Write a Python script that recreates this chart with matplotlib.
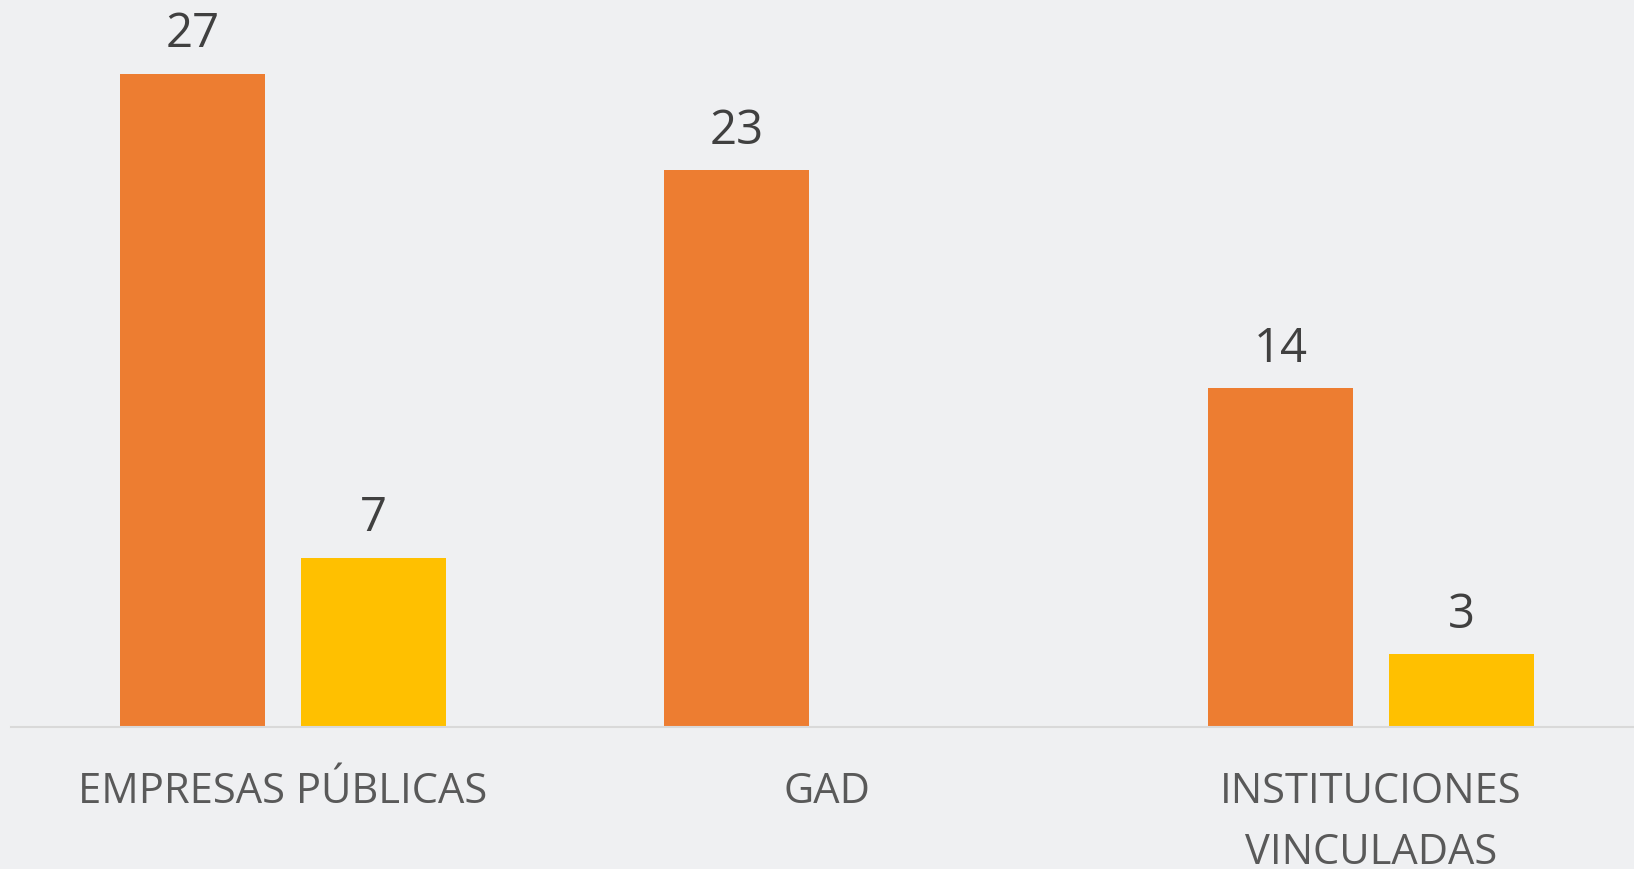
import numpy as np
import matplotlib
matplotlib.use("Agg")
import matplotlib.pyplot as plt

categorias = ["EMPRESAS PÚBLICAS", "GAD", "INSTITUCIONES\nVINCULADAS"]
serie_1 = [27, 23, 14]
serie_2 = [7, np.nan, 3]

plt.rcParams['font.family'] = ['Open Sans', 'DejaVu Sans']

fig = plt.figure(figsize=(16.34, 8.69), dpi=100)
fig.patch.set_facecolor('#eff0f2')
ax = fig.add_axes([0.0067, 0.1634, 0.9988, 0.8355])
ax.set_facecolor('none')

x = np.arange(len(categorias))
ancho = 0.267
desp = 0.166

b1 = ax.bar(x - desp, serie_1, ancho, color='#ed7d31')
b2 = ax.bar(x + desp, serie_2, ancho, color='#ffc000')

ax.bar_label(b1, labels=[str(v) for v in serie_1], padding=11,
             fontsize=34, color='#404040')
ax.bar_label(b2, labels=['' if np.isnan(v) else str(int(v)) for v in serie_2],
             padding=11, fontsize=34, color='#404040')

ax.set_xlim(-0.5, 2.5)
ax.set_ylim(0, 30)
ax.set_yticks([])
ax.set_xticks([])
for s in ['top', 'right', 'left']:
    ax.spines[s].set_visible(False)
ax.spines['bottom'].set_color('#d9d9d9')
ax.spines['bottom'].set_linewidth(1.5)

for xi, cat in zip(x, categorias):
    ax.annotate(cat, (xi, 0), xycoords=('data', 'axes fraction'),
                xytext=(0, -32), textcoords='offset points',
                ha='center', va='top', fontsize=30, color='#595959',
                linespacing=1.57, annotation_clip=False)

fig.savefig('out.png', dpi=100, facecolor=fig.get_facecolor())
